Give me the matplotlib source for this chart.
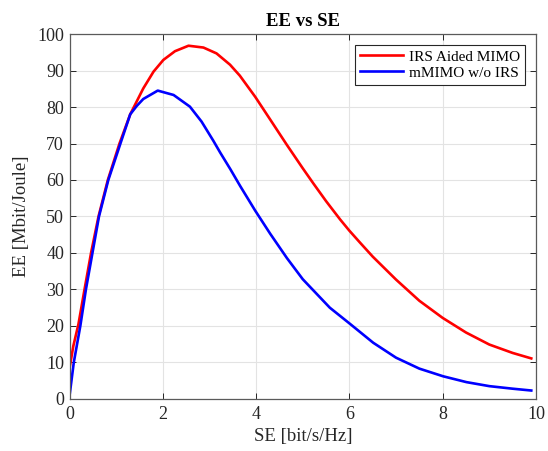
import matplotlib
matplotlib.use("Agg")
import matplotlib.pyplot as plt

se_irs = [0, 0.08, 0.19, 0.32, 0.46, 0.62, 0.82, 1.07, 1.30, 1.58, 1.80, 2.01, 2.26,
          2.55, 2.87, 3.15, 3.44, 3.65, 3.98, 4.30, 4.66, 5.0, 5.23, 5.5, 5.8, 6.0,
          6.23, 6.5, 7.0, 7.5, 8.0, 8.5, 9.0, 9.5, 9.9]
ee_irs = [8.5, 14.5, 20.5, 30, 40, 50, 60, 70, 78, 85.1, 89.7, 92.9, 95.3,
          96.8, 96.3, 94.7, 91.6, 88.6, 82.8, 76.6, 69.6, 63.2, 59.0, 54.2, 49.2, 46.1,
          42.8, 39.0, 32.7, 26.9, 22.2, 18.2, 14.9, 12.6, 11.1]

se_mm = [0, 0.09, 0.23, 0.35, 0.49, 0.63, 0.83, 1.09, 1.30, 1.44, 1.58, 1.89, 2.23,
         2.58, 2.83, 3.08, 3.23, 3.45, 3.66, 3.98, 4.30, 4.66, 5.0, 5.58, 6.01, 6.51,
         7.0, 7.5, 8.01, 8.51, 9.0, 9.5, 9.9]
ee_mm = [1, 10, 20, 30, 40, 50, 60, 70, 78, 80.3, 82.2, 84.5, 83.3,
         80.1, 76.0, 70.8, 67.5, 62.9, 58.3, 51.6, 45.3, 38.6, 32.8, 25.0, 20.6, 15.4,
         11.3, 8.3, 6.2, 4.6, 3.5, 2.8, 2.3]

labels = ["IRS Aided MIMO", "mMIMO w/o IRS"]
xticks = [0, 2, 4, 6, 8, 10]
yticks = list(range(0, 101, 10))

plt.rcParams['font.family'] = ['Liberation Serif', 'DejaVu Serif']

fig = plt.figure(figsize=(5.48, 4.51), dpi=100)
ax = fig.add_axes([0.127, 0.1155, 0.851, 0.809])

ax.plot(se_irs, ee_irs, color='#ff0000', lw=1.9, label=labels[0])
ax.plot(se_mm, ee_mm, color='#0000ff', lw=1.9, label=labels[1])

ax.set_xlim(0, 10)
ax.set_ylim(0, 100)
ax.set_xticks(xticks)
ax.set_yticks(yticks)
ax.grid(True, color='#e3e3e3', lw=0.8)
ax.set_axisbelow(True)
ax.tick_params(direction='in', top=True, right=True, labelsize=13, colors='#262626',
               length=4, width=0.7)
ax.tick_params(axis='x', pad=5)
ax.tick_params(axis='y', pad=4)
for s in ax.spines.values():
    s.set_color('#5a5a5a')
    s.set_linewidth(0.9)

ax.set_title("EE vs SE", fontsize=13.5, fontweight='bold', pad=6)
ax.set_xlabel("SE [bit/s/Hz]", fontsize=13.5, color='#262626', labelpad=4)
ax.set_ylabel("EE [Mbit/Joule]", fontsize=13.5, color='#262626', labelpad=5)

leg = ax.legend(loc='upper right', fontsize=11, handlelength=2.8, handletextpad=0.4,
                borderpad=0.35, labelspacing=0.15, fancybox=False, framealpha=1,
                edgecolor='#262626', borderaxespad=0.7)
leg.get_frame().set_linewidth(0.8)

fig.savefig("out.png", dpi=100)
